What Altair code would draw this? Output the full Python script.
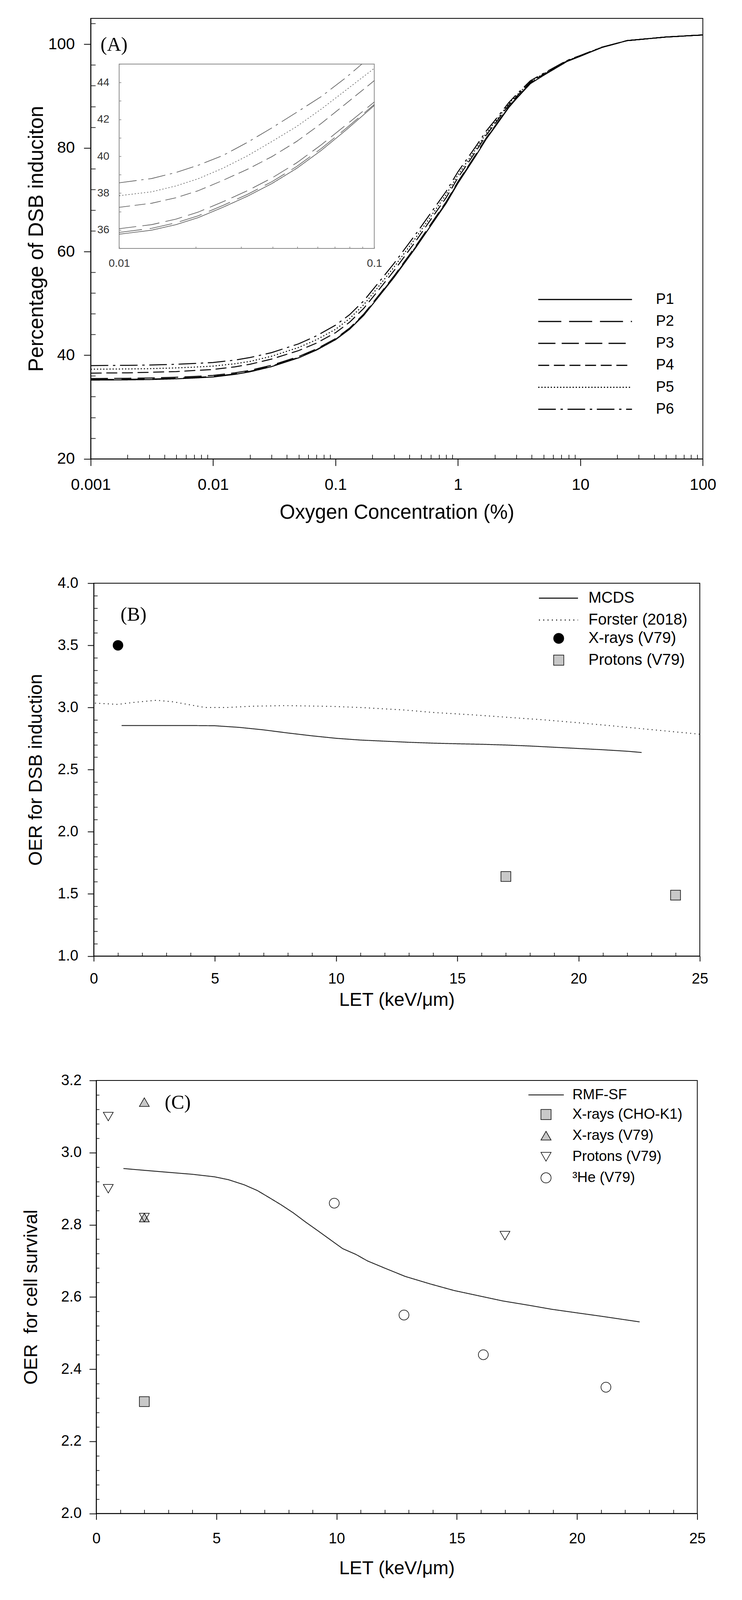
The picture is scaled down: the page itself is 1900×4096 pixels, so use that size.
import altair as alt
import pandas as pd

FONT = "Liberation Sans"
SERIF = "Liberation Serif"

# ================= Panel A : % DSB induction vs oxygen =================
A_SERIES = ["P1", "P2", "P3", "P4", "P5", "P6"]
A_DASH = [[1, 0], [59, 20], [44, 16], [28, 12], [3, 5], [45, 12, 6, 12]]
A_X = [0.001, 0.002, 0.003, 0.005, 0.007, 0.01, 0.015, 0.02, 0.03, 0.05, 0.07,
       0.1, 0.13, 0.17, 0.22, 0.3, 0.45, 0.6, 0.8, 1.0, 1.4, 1.7, 2.0, 2.6, 3.0,
       3.9, 5.0, 7.8, 10, 15, 24, 50, 100]
A_P1 = [35.2, 35.25, 35.3, 35.45, 35.6, 35.8, 36.3, 36.8, 37.8, 39.5, 41.0,
        43.0, 45.0, 47.7, 51.0, 55.0, 60.7, 65.0, 69.3, 73.2, 78.5, 81.7, 84.0, 87.8, 89.5,
        92.4, 94.0, 96.7, 97.7, 99.4, 100.7, 101.4, 101.8]
A_P2 = [35.3, 35.35, 35.4, 35.55, 35.7, 35.9, 36.4, 36.9, 37.9, 39.58, 41.07,
        43.07, 45.1, 47.82, 51.12, 55.13, 60.85, 65.15, 69.45, 73.35, 78.62, 81.8, 84.1, 87.88, 89.57,
        92.46, 94.05, 96.73, 97.72, 99.4, 100.7, 101.4, 101.8]
A_P3 = [35.5, 35.55, 35.6, 35.75, 35.9, 36.1, 36.6, 37.08, 38.07, 39.75, 41.22,
        43.2, 45.22, 47.95, 51.25, 55.28, 61.0, 65.3, 69.6, 73.5, 78.75, 81.92, 84.2, 87.97, 89.65,
        92.52, 94.1, 96.77, 97.75, 99.4, 100.7, 101.4, 101.8]
A_P4 = [36.55, 36.6, 36.7, 36.85, 37.05, 37.25, 37.75, 38.25, 39.25, 40.9, 42.35,
        44.35, 46.35, 49.05, 52.3, 56.3, 61.95, 66.2, 70.4, 74.25, 79.35, 82.45, 84.65, 88.3, 89.9,
        92.7, 94.2, 96.8, 97.75, 99.4, 100.7, 101.4, 101.8]
A_P5 = [37.3, 37.35, 37.4, 37.55, 37.7, 37.9, 38.35, 38.8, 39.8, 41.5, 43.0,
        45.0, 47.05, 49.75, 53.0, 57.0, 62.6, 66.8, 71.0, 74.8, 79.8, 82.8, 84.95, 88.5, 90.1,
        92.8, 94.3, 96.85, 97.8, 99.45, 100.7, 101.4, 101.8]
A_P6 = [38.0, 38.05, 38.1, 38.25, 38.4, 38.6, 39.05, 39.55, 40.5, 42.2, 43.75,
        45.8, 47.8, 50.5, 53.75, 57.7, 63.3, 67.45, 71.6, 75.4, 80.3, 83.25, 85.3, 88.75, 90.3,
        92.95, 94.4, 96.9, 97.85, 99.45, 100.7, 101.4, 101.8]

# inset (0.01 - 0.1 %)
IN_X = [0.01, 0.0134, 0.0167, 0.0204, 0.0255, 0.0318, 0.0397, 0.0496, 0.062, 0.0775, 0.1]
IN_X_P6 = [0.01, 0.0134, 0.0167, 0.0204, 0.0255, 0.0318, 0.0397, 0.0496, 0.062, 0.0775, 0.0894]
IN_P1 = [35.77, 35.99, 36.29, 36.67, 37.23, 37.83, 38.52, 39.34, 40.32, 41.42, 42.75]
IN_P2 = [35.87, 36.09, 36.39, 36.77, 37.33, 37.93, 38.62, 39.44, 40.42, 41.51, 42.81]
IN_P3 = [36.07, 36.29, 36.59, 36.97, 37.53, 38.13, 38.82, 39.64, 40.62, 41.70, 42.94]
IN_P4 = [37.23, 37.45, 37.75, 38.13, 38.69, 39.29, 39.98, 40.80, 41.78, 42.86, 44.10]
IN_P5 = [37.86, 38.07, 38.39, 38.78, 39.35, 40.02, 40.80, 41.61, 42.56, 43.59, 44.77]
IN_P6 = [38.56, 38.79, 39.12, 39.51, 40.04, 40.75, 41.54, 42.38, 43.24, 44.27, 45.0]
IN_BOX_X = [0.01, 0.1]
IN_BOX_Y = [35, 45]

A_MAJOR_X = [0.001, 0.01, 0.1, 1, 10, 100]
A_MAJOR_Y = [20, 40, 60, 80, 100]
A_MINOR_X = [m * 10.0 ** e for e in range(-3, 2) for m in range(2, 10)]
A_MINOR_Y = [24, 28, 32, 36, 44, 48, 52, 56, 64, 68, 72, 76, 84, 88, 92, 96, 104]
IN_TICKS_X = [0.01, 0.02, 0.03, 0.04, 0.05, 0.06, 0.07, 0.08, 0.09, 0.1]
IN_TICKS_Y = [35, 36, 37, 38, 39, 40, 41, 42, 43, 44, 45]
A_TAG = ["(A)"]
A_TAG_X = [0.00155]
A_TAG_Y = [99.9]

# ================= Panel B : OER for DSB induction =================
B_LINE_SERIES = ["MCDS", "Forster (2018)"]
B_LINE_DASH = [[1, 0], [2.5, 8.5]]
MCDS_X = [1.15, 2, 3, 4, 5, 6, 7, 8, 9, 10, 11, 12, 13, 14, 15, 16, 17, 18, 19, 20, 21, 22, 22.6]
MCDS_Y = [2.855, 2.855, 2.855, 2.855, 2.853, 2.84, 2.82, 2.795, 2.772, 2.752, 2.738, 2.729,
          2.72, 2.713, 2.708, 2.704, 2.698, 2.69, 2.68, 2.67, 2.66, 2.648, 2.638]
FORSTER_X = [0.05, 1.0, 1.6, 2.6, 3.3, 4.0, 4.6, 5.5, 6.5, 7.9, 9.8, 11.0, 12.8, 14.0,
             15.7, 17.0, 18.6, 20.0, 21.5, 23.0, 25.0]
FORSTER_Y = [3.035, 3.025, 3.04, 3.058, 3.045, 3.02, 3.0, 3.0, 3.01, 3.015, 3.009, 3.0,
             2.98, 2.96, 2.94, 2.922, 2.90, 2.877, 2.85, 2.822, 2.785]
B_PT_SERIES = ["X-rays (V79)", "Protons (V79)"]
B_PT_SHAPES = ["circle", "square"]
B_PT_FILLS = ["black", "#c8c8c8"]
B_PT_STROKES = ["black", "black"]
B_XRAY_X = [1.0]
B_XRAY_Y = [3.5]
B_PROT_X = [17.0, 24.0]
B_PROT_Y = [1.64, 1.49]
B_MAJOR_X = [0, 5, 10, 15, 20, 25]
B_MAJOR_Y = [1.0, 1.5, 2.0, 2.5, 3.0, 3.5, 4.0]
B_MINOR_X = [i for i in range(1, 25) if i % 5]
B_MINOR_Y = [round(1 + 0.1 * i, 1) for i in range(1, 30) if i % 5]
B_TAG = ["(B)"]
B_TAG_X = [1.64]
B_TAG_Y = [3.744]

# ================= Panel C : OER for cell survival =================
C_LINE_SERIES = ["RMF-SF"]
RMF_X = [1.13, 2.0, 3.08, 4.0, 4.92, 5.5, 6.15, 6.7, 7.18, 7.7, 8.2, 8.7, 9.23, 9.75,
         10.25, 10.8, 11.28, 12.0, 12.85, 13.9, 14.88, 16.0, 16.91, 18.0, 18.94, 20.0, 20.97, 22.6]
RMF_Y = [2.956, 2.951, 2.945, 2.94, 2.933, 2.925, 2.911, 2.895, 2.876, 2.855, 2.833, 2.808,
         2.783, 2.758, 2.734, 2.718, 2.70, 2.68, 2.657, 2.636, 2.618, 2.602, 2.589, 2.577,
         2.566, 2.556, 2.547, 2.531]
C_PT_SERIES = ["X-rays (CHO-K1)", "X-rays (V79)", "Protons (V79)", "\u00b3He (V79)"]
C_PT_SHAPES = ["square", "triangle-up", "triangle-down", "circle"]
C_PT_FILLS = ["#c8c8c8", "#c8c8c8", "transparent", "transparent"]
C_PT_STROKES = ["black", "black", "black", "black"]
C_CHO_X = [2.0]
C_CHO_Y = [2.31]
C_XV79_X = [2.0, 2.0]
C_XV79_Y = [3.14, 2.82]
C_PROT_X = [0.5, 0.5, 2.0, 17.0]
C_PROT_Y = [3.10, 2.90, 2.82, 2.77]
C_HE_X = [9.9, 12.8, 16.1, 21.2]
C_HE_Y = [2.86, 2.55, 2.44, 2.35]
C_MAJOR_X = [0, 5, 10, 15, 20, 25]
C_MAJOR_Y = [2.0, 2.2, 2.4, 2.6, 2.8, 3.0, 3.2]
C_MINOR_X = [i for i in range(1, 25) if i % 5]
C_MINOR_Y = [round(2 + 0.04 * i, 2) for i in range(1, 30) if i % 5]
C_TAG = ["(C)"]
C_TAG_X = [3.39]
C_TAG_Y = [3.138]


def long_df(pairs):
    rows = []
    for name, xs, ys in pairs:
        for x, y in zip(xs, ys):
            rows.append({"x": x, "y": y, "series": name})
    return pd.DataFrame(rows)


# ---------------- build panel A ----------------
WA, HA = 1567.4, 1127.7
IN_L, IN_R, IN_T, IN_B = 72.8, 726.1, 117.0, 589.0

dfA = long_df([(s, A_X, ys) for s, ys in zip(A_SERIES, [A_P1, A_P2, A_P3, A_P4, A_P5, A_P6])])
dfIn = long_df([("P1", IN_X, IN_P1), ("P2", IN_X, IN_P2), ("P3", IN_X, IN_P3),
                ("P4", IN_X, IN_P4), ("P5", IN_X, IN_P5), ("P6", IN_X_P6, IN_P6)])
dfBox = pd.DataFrame({"x": [IN_BOX_X[0]], "x2": [IN_BOX_X[1]], "y": [IN_BOX_Y[0]], "y2": [IN_BOX_Y[1]]})
dfTagA = pd.DataFrame({"x": A_TAG_X, "y": A_TAG_Y, "t": A_TAG})

xA = alt.Scale(type="log", domain=[0.001, 100], nice=False)
yA = alt.Scale(domain=[20, 105], nice=False, zero=False)
dashA = alt.Scale(domain=A_SERIES, range=A_DASH)
xIn = alt.Scale(type="log", domain=[0.01, 0.1], range=[IN_L, IN_R], nice=False)
yIn = alt.Scale(domain=[35, 45], range=[IN_B, IN_T], nice=False, zero=False)

legA = alt.Legend(orient="none", legendX=1144.5, legendY=699.7, title=None,
                  symbolType="stroke", symbolSize=57600, symbolStrokeWidth=3,
                  symbolStrokeColor="black", labelFontSize=38, labelOffset=59.7,
                  clipHeight=40, rowPadding=16.2, padding=0, labelLimit=0)

a_lines = alt.Chart(dfA).mark_line(color="black", strokeWidth=2.5).encode(
    x=alt.X("x:Q", scale=xA, axis=alt.Axis(
        orient="bottom", values=A_MAJOR_X, format="~g", title="Oxygen Concentration (%)",
        tickSize=17.7, labelPadding=29, labelFontSize=41, titleFontSize=51, titlePadding=26)),
    y=alt.Y("y:Q", scale=yA, axis=alt.Axis(
        orient="left", values=A_MAJOR_Y, format="d", title="Percentage of DSB induciton",
        tickSize=17.7, labelPadding=23.3, labelFontSize=41, titleFontSize=53, titlePadding=2.7)),
    strokeDash=alt.StrokeDash("series:N", scale=dashA, legend=legA),
)
a_minor = alt.Chart(dfA).mark_point(opacity=0).encode(
    x=alt.X("x:Q", scale=xA, axis=alt.Axis(orient="bottom", values=A_MINOR_X, labels=False,
                                           domain=False, title=None, tickSize=11, offset=-11,
                                           tickWidth=1.6)),
    y=alt.Y("y:Q", scale=yA, axis=alt.Axis(orient="left", values=A_MINOR_Y, labels=False,
                                           domain=False, title=None, tickSize=12, offset=-12,
                                           tickWidth=1.6)),
)
a_box = alt.Chart(dfBox).mark_rect(fill="transparent", stroke="#8a8a8a", strokeWidth=2).encode(
    x=alt.X("x:Q", scale=xIn, axis=None), x2="x2:Q",
    y=alt.Y("y:Q", scale=yIn, axis=None), y2="y2:Q",
)
a_inset = alt.Chart(dfIn).mark_line(color="#555555", strokeWidth=1.6).encode(
    x=alt.X("x:Q", scale=xIn, axis=alt.Axis(
        orient="bottom", values=IN_TICKS_X, format="~g",
        labelExpr="(datum.value == 0.01 || datum.value == 0.1) ? datum.label : ''",
        tickSize=5, offset=-(HA - IN_B) - 5, domain=False, title=None, labelPadding=24.7,
        labelFontSize=28, labelColor="#333333", tickColor="#666666", tickWidth=1.3)),
    y=alt.Y("y:Q", scale=yIn, axis=alt.Axis(
        orient="left", values=IN_TICKS_Y, format="d",
        labelExpr="(datum.value % 2 == 0 && datum.value > 35 && datum.value < 45) ? datum.label : ''",
        tickSize=5, offset=-IN_L - 5, domain=False, title=None, labelPadding=25.4,
        labelFontSize=28, labelColor="#333333", tickColor="#666666", tickWidth=1.3)),
    strokeDash=alt.StrokeDash("series:N", scale=dashA, legend=legA),
)
a_tag = alt.Chart(dfTagA).mark_text(font=SERIF, fontSize=50, align="center", baseline="middle",
                                    color="black").encode(
    x=alt.X("x:Q", scale=xA, axis=None), y=alt.Y("y:Q", scale=yA, axis=None), text="t:N")

panelA = alt.layer(a_lines, a_minor, a_box, a_inset, a_tag).resolve_scale(
    x="independent", y="independent").properties(width=WA, height=HA)

# ---------------- build panel B ----------------
WB, HB = 1551.9, 954.5
dfBL = long_df([("MCDS", MCDS_X, MCDS_Y), ("Forster (2018)", FORSTER_X, FORSTER_Y)])
dfBP = long_df([("X-rays (V79)", B_XRAY_X, B_XRAY_Y), ("Protons (V79)", B_PROT_X, B_PROT_Y)])
dfTagB = pd.DataFrame({"x": B_TAG_X, "y": B_TAG_Y, "t": B_TAG})
xB = alt.Scale(domain=[0, 25], nice=False, zero=False)
yB = alt.Scale(domain=[1, 4], nice=False, zero=False)

legB1 = alt.Legend(orient="none", legendX=1138.5, legendY=20.2, title=None, symbolType="stroke",
                   symbolSize=10000, symbolStrokeWidth=2.5, symbolStrokeColor="black",
                   labelFontSize=40, labelOffset=25.2, clipHeight=36, rowPadding=16, padding=0,
                   labelLimit=0)
legB2 = alt.Legend(orient="none", legendX=1170.6, legendY=123.2, title=None,
                   symbolSize=676, symbolStrokeWidth=1.5, symbolStrokeColor="black",
                   labelFontSize=40, labelOffset=56.1, clipHeight=36, rowPadding=15.8, padding=0,
                   labelLimit=0)

b_minor = alt.Chart(dfBL).mark_point(opacity=0).encode(
    x=alt.X("x:Q", scale=xB, axis=alt.Axis(orient="bottom", values=B_MINOR_X, labels=False,
                                           domain=False, title=None, tickSize=9, offset=-9,
                                           tickWidth=1.6)),
    y=alt.Y("y:Q", scale=yB, axis=alt.Axis(orient="left", values=B_MINOR_Y, labels=False,
                                           domain=False, title=None, tickSize=9.5, offset=-9.5,
                                           tickWidth=1.6)),
)
b_lines = alt.Chart(dfBL).mark_line(color="#222222", strokeWidth=2.2).encode(
    x=alt.X("x:Q", scale=xB, axis=alt.Axis(
        orient="bottom", values=B_MAJOR_X, format="d", title="LET (keV/\u03bcm)",
        tickSize=13.4, labelPadding=26.8, labelFontSize=38, titleFontSize=48, titlePadding=10.8)),
    y=alt.Y("y:Q", scale=yB, axis=alt.Axis(
        orient="left", values=B_MAJOR_Y, format=".1f", title="OER for DSB induction",
        tickSize=15.8, labelPadding=24.1, labelFontSize=38, titleFontSize=48, titlePadding=30.5)),
    strokeDash=alt.StrokeDash("series:N", scale=alt.Scale(domain=B_LINE_SERIES, range=B_LINE_DASH),
                              legend=legB1),
)
b_pts = alt.Chart(dfBP).mark_point(filled=True, strokeWidth=1.5, size=640, opacity=1).encode(
    x=alt.X("x:Q", scale=xB, axis=None), y=alt.Y("y:Q", scale=yB, axis=None),
    shape=alt.Shape("series:N", scale=alt.Scale(domain=B_PT_SERIES, range=B_PT_SHAPES), legend=legB2),
    fill=alt.Fill("series:N", scale=alt.Scale(domain=B_PT_SERIES, range=B_PT_FILLS), legend=legB2),
    stroke=alt.Stroke("series:N", scale=alt.Scale(domain=B_PT_SERIES, range=B_PT_STROKES), legend=legB2),
)
b_tag = alt.Chart(dfTagB).mark_text(font=SERIF, fontSize=50, align="center", baseline="middle",
                                    color="black").encode(
    x=alt.X("x:Q", scale=xB, axis=None), y=alt.Y("y:Q", scale=yB, axis=None), text="t:N")

panelB = alt.layer(b_minor, b_lines, b_pts, b_tag).resolve_axis(
    x="independent", y="independent").properties(width=WB, height=HB)

# ---------------- build panel C ----------------
WC, HC = 1539.1, 1108.6
dfCL = long_df([("RMF-SF", RMF_X, RMF_Y)])
dfCP = long_df([("X-rays (CHO-K1)", C_CHO_X, C_CHO_Y), ("X-rays (V79)", C_XV79_X, C_XV79_Y),
                ("Protons (V79)", C_PROT_X, C_PROT_Y), ("\u00b3He (V79)", C_HE_X, C_HE_Y)])
dfTagC = pd.DataFrame({"x": C_TAG_X, "y": C_TAG_Y, "t": C_TAG})
xC = alt.Scale(domain=[0, 25], nice=False, zero=False)
yC = alt.Scale(domain=[2.0, 3.2], nice=False, zero=False)

legC1 = alt.Legend(orient="none", legendX=1105.5, legendY=20, title=None, symbolType="stroke",
                   symbolSize=8208, symbolStrokeWidth=2, symbolStrokeColor="black",
                   labelFontSize=37, labelOffset=20.7, clipHeight=34, rowPadding=17, padding=0,
                   labelLimit=0)
legC2 = alt.Legend(orient="none", legendX=1133.2, legendY=70.3, title=None,
                   symbolSize=676, symbolStrokeWidth=1.5, symbolStrokeColor="black",
                   labelFontSize=37, labelOffset=49, clipHeight=34, rowPadding=17, padding=0,
                   labelLimit=0)

c_minor = alt.Chart(dfCL).mark_point(opacity=0).encode(
    x=alt.X("x:Q", scale=xC, axis=alt.Axis(orient="bottom", values=C_MINOR_X, labels=False,
                                           domain=False, title=None, tickSize=9.8, offset=-9.8,
                                           tickWidth=1.6)),
    y=alt.Y("y:Q", scale=yC, axis=alt.Axis(orient="left", values=C_MINOR_Y, labels=False,
                                           domain=False, title=None, tickSize=7.6, offset=-7.6,
                                           tickWidth=1.6)),
)
c_line = alt.Chart(dfCL).mark_line(color="#222222", strokeWidth=2.2).encode(
    x=alt.X("x:Q", scale=xC, axis=alt.Axis(
        orient="bottom", values=C_MAJOR_X, format="d", title="LET (keV/\u03bcm)",
        tickSize=15.6, labelPadding=30.7, labelFontSize=38, titleFontSize=48, titlePadding=33)),
    y=alt.Y("y:Q", scale=yC, axis=alt.Axis(
        orient="left", values=C_MAJOR_Y, format=".1f", title="OER\u00a0 for cell survival",
        tickSize=17.7, labelPadding=20, labelFontSize=38, titleFontSize=48, titlePadding=51)),
    strokeDash=alt.StrokeDash("series:N", scale=alt.Scale(domain=C_LINE_SERIES, range=[[1, 0]]),
                              legend=legC1),
)
c_pts = alt.Chart(dfCP).mark_point(filled=True, strokeWidth=1.5, size=640, opacity=1).encode(
    x=alt.X("x:Q", scale=xC, axis=None), y=alt.Y("y:Q", scale=yC, axis=None),
    shape=alt.Shape("series:N", scale=alt.Scale(domain=C_PT_SERIES, range=C_PT_SHAPES), legend=legC2),
    fill=alt.Fill("series:N", scale=alt.Scale(domain=C_PT_SERIES, range=C_PT_FILLS), legend=legC2),
    stroke=alt.Stroke("series:N", scale=alt.Scale(domain=C_PT_SERIES, range=C_PT_STROKES), legend=legC2),
)
c_tag = alt.Chart(dfTagC).mark_text(font=SERIF, fontSize=50, align="center", baseline="middle",
                                    color="black").encode(
    x=alt.X("x:Q", scale=xC, axis=None), y=alt.Y("y:Q", scale=yC, axis=None), text="t:N")

panelC = alt.layer(c_minor, c_line, c_pts, c_tag).resolve_axis(
    x="independent", y="independent").properties(width=WC, height=HC)

# ---------------- assemble ----------------
chart = alt.vconcat(panelA, panelB, panelC, spacing=318, bounds="flush", center=True).resolve_scale(
    strokeDash="independent", shape="independent", fill="independent", stroke="independent"
).resolve_legend(
    strokeDash="independent", shape="independent", fill="independent", stroke="independent"
).properties(
    padding={"left": 47, "top": 38, "right": 5, "bottom": 5}
).configure(font=FONT).configure_view(
    stroke="black", strokeWidth=2
).configure_axis(
    domainColor="black", domainWidth=2, tickColor="black", tickWidth=2,
    labelColor="black", titleColor="black", titleFontWeight="normal",
    labelFont=FONT, titleFont=FONT, grid=False, labelFlush=False, labelOverlap=False
).configure_legend(
    labelFont=FONT, labelColor="black", symbolBaseStrokeColor="black"
)

chart.save("out.html", embed_options={"renderer": "svg", "actions": False})
